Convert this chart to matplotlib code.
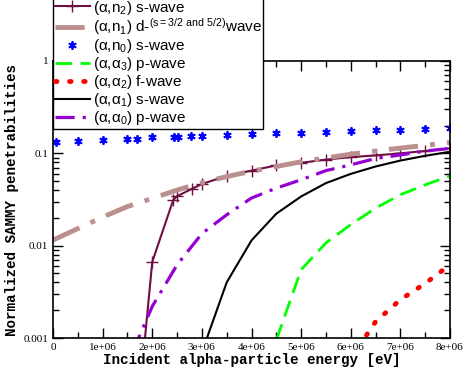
import matplotlib
matplotlib.use("Agg")
import matplotlib.pyplot as plt
from matplotlib.ticker import FixedLocator, NullFormatter, LogLocator

# ---- data ----
x_n2 = [1.8e6, 2.0e6, 2.42e6, 2.49e6, 2.8e6, 3.0e6, 3.5e6, 4.0e6, 4.5e6, 5.0e6, 5.5e6, 6.0e6, 6.5e6, 7.0e6, 7.5e6, 8.0e6]
y_n2 = [0.0005, 0.00667, 0.0309, 0.0341, 0.0413, 0.0465, 0.057, 0.065, 0.074, 0.079, 0.0855, 0.091, 0.095, 0.100, 0.106, 0.113]

x_n1 = [0.0, 0.5e6, 1.0e6, 1.5e6, 2.0e6, 2.5e6, 3.0e6, 3.5e6, 4.0e6, 4.5e6, 5.0e6, 5.5e6, 6.0e6, 6.5e6, 7.0e6, 7.5e6, 8.0e6]
y_n1 = [0.0115, 0.0153, 0.0204, 0.0265, 0.0325, 0.040, 0.048, 0.056, 0.064, 0.072, 0.081, 0.089, 0.098, 0.106, 0.114, 0.122, 0.131]

x_n0 = [0.06e6, 0.5e6, 1.0e6, 1.5e6, 1.7e6, 2.0e6, 2.44e6, 2.52e6, 2.78e6, 3.0e6, 3.5e6, 4.0e6, 4.5e6, 5.0e6, 5.5e6, 6.0e6, 6.5e6, 7.0e6, 7.5e6, 8.0e6]
y_n0 = [0.1316, 0.135, 0.140, 0.144, 0.144, 0.149, 0.151, 0.151, 0.154, 0.154, 0.158, 0.162, 0.164, 0.167, 0.170, 0.173, 0.178, 0.180, 0.183, 0.188]

x_a3 = [4.5e6, 5.0e6, 5.5e6, 6.0e6, 6.5e6, 7.0e6, 7.5e6, 8.0e6]
y_a3 = [0.00095, 0.0055, 0.0107, 0.0169, 0.0255, 0.0356, 0.0456, 0.057]

x_a2 = [6.0e6, 6.5e6, 7.0e6, 7.5e6, 8.0e6]
y_a2 = [0.0006, 0.0015, 0.0026, 0.0039, 0.0062]

x_a1 = [3.0e6, 3.5e6, 4.0e6, 4.5e6, 5.0e6, 5.5e6, 6.0e6, 6.5e6, 7.0e6, 7.5e6, 8.0e6]
y_a1 = [0.0007, 0.004, 0.0114, 0.0222, 0.0341, 0.0476, 0.0599, 0.072, 0.0835, 0.094, 0.104]

x_a0 = [1.6e6, 2.0e6, 2.5e6, 3.0e6, 3.5e6, 4.0e6, 4.5e6, 5.0e6, 5.5e6, 6.0e6, 6.5e6, 7.0e6, 7.5e6, 8.0e6]
y_a0 = [0.0007, 0.0022, 0.0062, 0.0135, 0.0216, 0.0328, 0.042, 0.0517, 0.065, 0.075, 0.088, 0.096, 0.106, 0.113]

xticks = [0, 1e6, 2e6, 3e6, 4e6, 5e6, 6e6, 7e6, 8e6]
xticklabels = ["0", "1e+06", "2e+06", "3e+06", "4e+06", "5e+06", "6e+06", "7e+06", "8e+06"]
yticks = [0.001, 0.01, 0.1, 1]
yticklabels = ["0.001", "0.01", "0.1", "1"]

labels = [
    r"($\alpha$,n$_2$) s-wave",
    r"($\alpha$,n$_1$) d-$^{(s=3/2\ and\ 5/2)}$wave",
    r"($\alpha$,n$_0$) s-wave",
    r"($\alpha$,$\alpha_3$) p-wave",
    r"($\alpha$,$\alpha_2$) f-wave",
    r"($\alpha$,$\alpha_1$) s-wave",
    r"($\alpha$,$\alpha_0$) p-wave",
]

plt.rcParams['mathtext.fontset'] = 'custom'
plt.rcParams['mathtext.rm'] = 'Liberation Sans'
plt.rcParams['mathtext.it'] = 'Liberation Sans'
plt.rcParams['mathtext.default'] = 'rm'

W, H = 463, 374
fig = plt.figure(figsize=(W / 100, H / 100), dpi=100)
L, R, T, B = 53, 450, 61, 338
ax = fig.add_axes([L / W, 1 - B / H, (R - L) / W, (B - T) / H])

h1, = ax.plot(x_n2, y_n2, color='#6e0f42', lw=1.5, marker='+', ms=8, mew=1.0)
h2, = ax.plot(x_n1, y_n1, color='#bc8f8f', lw=3.5, dashes=(6, 2.5, 1, 2.5))
h3, = ax.plot(x_n0, y_n0, ls='none', color='#0000ff', marker=(6, 2, 0), ms=6, mew=1.3)
h4, = ax.plot(x_a3, y_a3, color='#00ff00', lw=2, dashes=(6, 3))
h5, = ax.plot(x_a2, y_a2, color='#ff0000', lw=3.5, dashes=(0.3, 2.6), dash_capstyle='round')
h6, = ax.plot(x_a1, y_a1, color='black', lw=1.5)
h7, = ax.plot(x_a0, y_a0, color='#9400d3', lw=2.3, dashes=(6, 2.5, 1, 2.5))

ax.set_yscale('log')
ax.set_xlim(0, 8e6)
ax.set_ylim(0.001, 1)
ax.set_xticks(xticks)
ax.set_xticklabels(xticklabels)
ax.xaxis.set_minor_locator(FixedLocator([0.5e6 + i * 1e6 for i in range(8)]))
ax.set_yticks(yticks)
ax.set_yticklabels(yticklabels)
ax.yaxis.set_minor_locator(LogLocator(base=10, subs=range(2, 10)))
ax.yaxis.set_minor_formatter(NullFormatter())
ax.tick_params(which='both', direction='in', top=True, right=True, width=1)
ax.tick_params(which='major', length=7)
ax.tick_params(which='minor', length=4)
for lab in ax.get_xticklabels() + ax.get_yticklabels():
    lab.set_fontfamily('Liberation Serif')
    lab.set_fontsize(8)
for s in ax.spines.values():
    s.set_linewidth(1.2)

ax.set_xlabel("Incident alpha-particle energy [eV]", family='Liberation Mono',
              fontweight='bold', fontsize=10.3, labelpad=1)
ax.set_ylabel("Normalized SAMMY penetrabilities", family='Liberation Mono',
              fontweight='bold', fontsize=10.3, labelpad=3)

leg = fig.legend([h1, h2, h3, h4, h5, h6, h7], labels,
                 loc='upper left', bbox_to_anchor=(L / W, 1.0 + 3 / H),
                 prop={'family': 'Liberation Sans', 'size': 11},
                 frameon=True, fancybox=False, framealpha=1, edgecolor='black',
                 borderpad=0.1, labelspacing=0.0, handlelength=2.3, handletextpad=0.2,
                 borderaxespad=0)
leg.get_frame().set_linewidth(1.0)

fig.savefig("out.png", dpi=100)
